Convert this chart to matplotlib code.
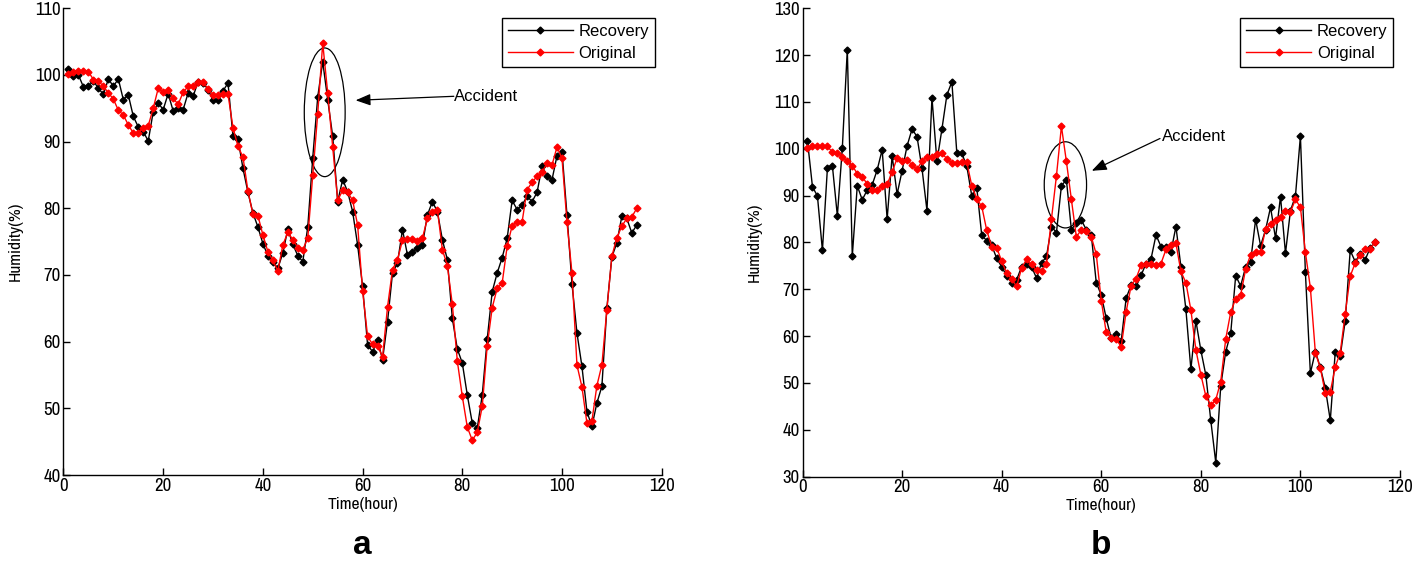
import matplotlib
matplotlib.use("Agg")
import matplotlib.pyplot as plt
from matplotlib.patches import Ellipse
from matplotlib import font_manager

# ---------------- data ----------------
hours = list(range(1, 116))

original = [100.1, 100.5, 100.6, 100.6, 100.5, 99.3, 99.1, 98.3, 97.3, 96.4,
            94.7, 94.0, 92.5, 91.3, 91.3, 92.1, 92.4, 95.0, 98.0, 97.4,
            97.7, 96.5, 95.6, 97.4, 98.3, 98.3, 98.9, 99.0, 97.9, 97.0,
            97.0, 97.2, 97.1, 92.1, 89.3, 87.7, 82.6, 79.1, 78.9, 76.0,
            73.5, 72.2, 70.6, 74.5, 76.4, 75.3, 74.1, 73.8, 75.5, 85.0,
            94.2, 104.8, 97.3, 89.2, 81.2, 82.7, 82.4, 81.2, 77.5, 67.6,
            60.8, 59.6, 59.4, 57.7, 65.2, 70.8, 72.3, 75.2, 75.4, 75.4,
            75.1, 75.5, 78.5, 79.5, 79.8, 73.8, 71.4, 65.6, 57.1, 51.8,
            47.2, 45.2, 46.4, 50.3, 59.4, 65.1, 68.0, 68.8, 74.3, 77.4,
            78.0, 78.0, 82.8, 83.9, 84.8, 85.4, 86.8, 86.5, 89.2, 87.5,
            77.9, 70.3, 56.5, 53.2, 47.8, 48.1, 53.4, 56.5, 64.8, 72.8,
            75.6, 77.3, 78.5, 78.7, 80.0]

recovery_a = [100.9, 99.8, 100.0, 98.2, 98.3, 99.1, 98.0, 97.1, 99.4, 98.3,
              99.4, 96.3, 97.0, 93.8, 92.2, 91.5, 90.1, 94.5, 95.8, 94.8,
              97.2, 94.6, 95.0, 94.8, 97.3, 96.8, 99.0, 98.8, 97.8, 96.2,
              96.2, 97.6, 98.8, 90.8, 90.4, 86.0, 82.4, 79.3, 77.2, 74.7,
              72.9, 72.0, 71.0, 73.3, 76.9, 74.6, 72.9, 72.0, 77.2, 87.6,
              96.7, 102.0, 96.3, 90.8, 81.0, 84.3, 82.5, 79.5, 74.5, 68.3,
              59.5, 58.5, 60.2, 57.3, 63.0, 70.3, 71.8, 76.8, 73.0, 73.5,
              74.0, 74.5, 79.0, 81.0, 79.5, 75.3, 72.3, 63.5, 58.9, 56.8,
              52.0, 47.8, 47.0, 52.0, 60.4, 67.5, 70.3, 72.6, 75.5, 81.2,
              79.8, 80.5, 81.8, 81.0, 82.4, 86.3, 84.9, 84.3, 87.9, 88.5,
              79.0, 68.7, 61.3, 56.3, 49.5, 47.3, 50.8, 53.3, 65.0, 72.7,
              74.8, 78.8, 78.5, 76.3, 77.5]

recovery_b = [101.7, 91.9, 89.9, 78.3, 95.8, 96.4, 85.7, 100.2, 121.2, 77.1,
              92.1, 89.1, 91.2, 92.3, 95.5, 99.8, 85.0, 98.5, 90.3, 95.3,
              100.6, 104.2, 102.6, 95.8, 86.8, 110.9, 97.3, 104.2, 111.5, 114.3,
              99.0, 99.0, 96.3, 89.9, 91.7, 81.5, 80.4, 79.4, 76.6, 74.8,
              72.9, 71.4, 72.0, 74.8, 75.5, 74.8, 72.4, 75.6, 77.0, 83.4,
              82.1, 92.1, 93.4, 82.7, 84.2, 84.8, 82.7, 81.6, 71.4, 68.8,
              63.8, 59.5, 60.4, 58.9, 68.1, 70.9, 70.6, 73.0, 75.5, 76.5,
              81.6, 79.1, 79.1, 78.0, 83.4, 74.8, 65.7, 52.9, 63.3, 57.0,
              51.7, 42.0, 33.0, 49.4, 56.7, 60.6, 72.9, 70.7, 74.8, 75.9,
              84.9, 79.3, 82.7, 87.5, 80.9, 89.8, 77.7, 86.8, 89.9, 102.7,
              73.6, 52.1, 56.7, 53.3, 48.9, 42.0, 56.7, 55.8, 63.3, 78.3,
              75.9, 77.5, 76.3, 78.8, 80.0]

x_ticks = [0, 20, 40, 60, 80, 100, 120]
y_ticks_a = [40, 50, 60, 70, 80, 90, 100, 110]
y_ticks_b = [30, 40, 50, 60, 70, 80, 90, 100, 110, 120, 130]
series_labels = ["Recovery", "Original"]
panel_labels = ["a", "b"]
annot_text = "Accident"

# ---------------- style ----------------
plt.rcParams['font.family'] = ['Liberation Sans', 'DejaVu Sans']

# look for a condensed face (MATLAB-like narrow tick labels)
narrow_names = sorted({f.name for f in font_manager.fontManager.ttflist
                       if ('Narrow' in f.name or 'Condensed' in f.name)})
NARROW = narrow_names[:1] + ['Liberation Sans', 'DejaVu Sans']

W, H = 1415, 573
fig = plt.figure(figsize=(W / 100, H / 100), dpi=100)

def px_axes(l, r, t, b):
    return fig.add_axes([l / W, 1 - b / H, (r - l) / W, (b - t) / H])

ax_a = px_axes(63.5, 661.7, 8.3, 475.0)
ax_b = px_axes(802.5, 1400.0, 8.3, 476.6)

def style(ax, yticks, ylim):
    ax.set_xlim(0, 120)
    ax.set_ylim(*ylim)
    ax.set_xticks(x_ticks)
    ax.set_yticks(yticks)
    for s in ['top', 'right']:
        ax.spines[s].set_visible(False)
    for s in ['left', 'bottom']:
        ax.spines[s].set_linewidth(1.0)
    ax.tick_params(direction='in', length=5, width=1.0, pad=2)
    for lab in ax.get_xticklabels() + ax.get_yticklabels():
        lab.set_family(NARROW)
        lab.set_fontsize(13.5)
    ax.set_xlabel("Time(hour)", family=NARROW, fontsize=12.5, labelpad=2)
    ax.set_ylabel("Humidity(%)", family=NARROW, fontsize=12.5, labelpad=9)

def draw(ax, rec):
    ax.plot(hours, rec, color='black', lw=1.0, marker='D', ms=3.5,
            label=series_labels[0])
    ax.plot(hours, original, color='#ff0000', lw=1.0, marker='D', ms=3.5,
            label=series_labels[1])

draw(ax_a, recovery_a)
draw(ax_b, recovery_b)
style(ax_a, y_ticks_a, (40, 110))
style(ax_b, y_ticks_b, (30, 130))

for ax in (ax_a, ax_b):
    leg = ax.legend(loc='upper right', bbox_to_anchor=(0.9888, 0.9786),
                    borderaxespad=0, fancybox=False, framealpha=1,
                    edgecolor='black', fontsize=12, handlelength=3.9,
                    handletextpad=0.35, borderpad=0.35, labelspacing=0.4)
    leg.get_frame().set_linewidth(1.0)

# annotations panel a
ax_a.add_patch(Ellipse((52.4, 94.4), 8.2, 19.3, fill=False, ec='black', lw=0.9))
ax_a.annotate("", xy=(58.6, 96.2), xytext=(78.3, 96.8),
              arrowprops=dict(arrowstyle='-|>,head_length=0.9,head_width=0.35',
                              color='black', lw=0.9, shrinkA=0, shrinkB=0))
ax_a.text(78.4, 96.8, annot_text, fontsize=12, va='center', ha='left')

# annotations panel b
ax_b.add_patch(Ellipse((52.8, 92.3), 8.5, 18.4, fill=False, ec='black', lw=0.9))
ax_b.annotate("", xy=(58.1, 95.3), xytext=(71.8, 102.2),
              arrowprops=dict(arrowstyle='-|>,head_length=0.9,head_width=0.35',
                              color='black', lw=0.9, shrinkA=0, shrinkB=0))
ax_b.text(72.2, 102.6, annot_text, fontsize=12, va='center', ha='left')

# panel letters
fig.text(362.6 / W, 1 - 545 / H, panel_labels[0], fontsize=24, fontweight='bold',
         ha='center', va='center')
fig.text(1101 / W, 1 - 545 / H, panel_labels[1], fontsize=24, fontweight='bold',
         ha='center', va='center')

fig.savefig("out.png", dpi=100)
